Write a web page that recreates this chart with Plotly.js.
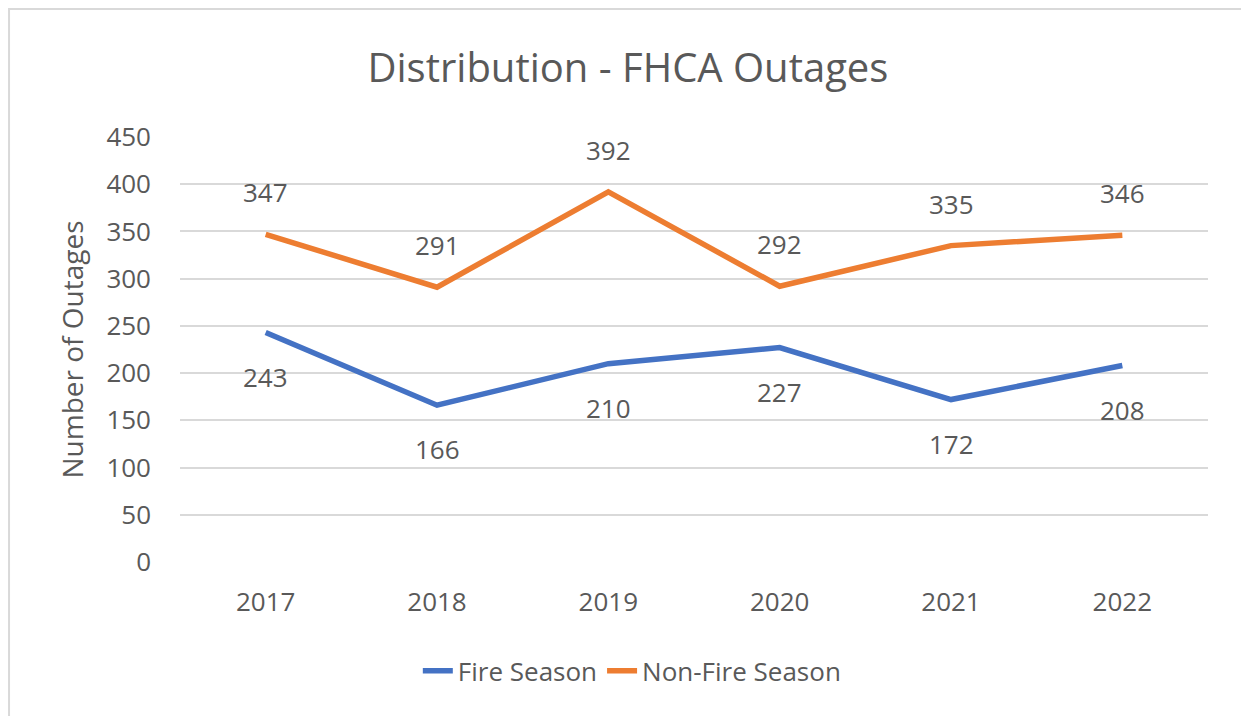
<!DOCTYPE html>
<html>
<head>
<meta charset="utf-8">
<script src="https://cdn.plot.ly/plotly-3.0.1.min.js"></script>
<style>html,body{margin:0;padding:0;background:#fff;}#chart{width:1241px;height:716px;}</style>
</head>
<body>
<div id="chart"></div>
<script>
const years = ["2017", "2018", "2019", "2020", "2021", "2022"];
const fireSeason = [243, 166, 210, 227, 172, 208];
const nonFireSeason = [347, 291, 392, 292, 335, 346];
const yTicks = [0, 50, 100, 150, 200, 250, 300, 350, 400, 450];

const FONT = "Open Sans, Noto Sans, sans-serif";
const TXT = "#595959";
const BLUE = "#4472C4";
const ORANGE = "#ED7D31";

const traces = [
  {x: years, y: fireSeason, name: "Fire Season", type: "scatter", mode: "lines",
   line: {color: BLUE, width: 5.5}},
  {x: years, y: nonFireSeason, name: "Non-Fire Season", type: "scatter", mode: "lines",
   line: {color: ORANGE, width: 5.5}}
];

const annotations = [];
years.forEach((yr, i) => {
  annotations.push({x: i, y: fireSeason[i], xref: "x", yref: "y", text: String(fireSeason[i]),
    showarrow: false, yshift: -44, xanchor: "center", yanchor: "middle",
    font: {family: FONT, size: 26, color: TXT}});
  annotations.push({x: i, y: nonFireSeason[i], xref: "x", yref: "y", text: String(nonFireSeason[i]),
    showarrow: false, yshift: 42, xanchor: "center", yanchor: "middle",
    font: {family: FONT, size: 26, color: TXT}});
});

const layout = {
  width: 1241, height: 716,
  paper_bgcolor: "#ffffff", plot_bgcolor: "#ffffff",
  margin: {l: 180, r: 33, t: 137, b: 154, pad: 0},
  font: {family: FONT, color: TXT},
  title: {text: "Distribution - FHCA Outages", x: 0.506, xanchor: "center", y: 0.905, yanchor: "middle",
    font: {family: FONT, size: 40, color: TXT}},
  xaxis: {type: "category", categoryarray: years, range: [-0.5, 5.5],
    showgrid: false, zeroline: false, showline: false, ticks: "",
    ticklabelstandoff: 22, tickfont: {family: FONT, size: 26, color: TXT}, fixedrange: true},
  yaxis: {range: [0, 450], tickvals: yTicks, ticktext: yTicks.map(String),
    showgrid: true, gridcolor: "#d9d9d9", gridwidth: 2, zeroline: false, showline: false, ticks: "",
    ticklabelstandoff: 28, tickfont: {family: FONT, size: 26, color: TXT},
    title: {text: "Number of Outages", standoff: 14, font: {family: FONT, size: 28, color: TXT}}, fixedrange: true},
  showlegend: true,
  legend: {orientation: "h", x: 0.44, xanchor: "center", y: -0.256, yanchor: "middle",
    font: {family: FONT, size: 26, color: TXT}, bgcolor: "rgba(0,0,0,0)"},
  annotations: annotations,
  shapes: [{type: "rect", xref: "paper", yref: "paper", x0: -0.1663, x1: 1.05, y0: -0.40, y1: 1.3012,
    line: {color: "#d9d9d9", width: 2}, fillcolor: "rgba(0,0,0,0)", layer: "below"}]
};

Plotly.newPlot("chart", traces, layout, {displayModeBar: false, staticPlot: true});
</script>
</body>
</html>
